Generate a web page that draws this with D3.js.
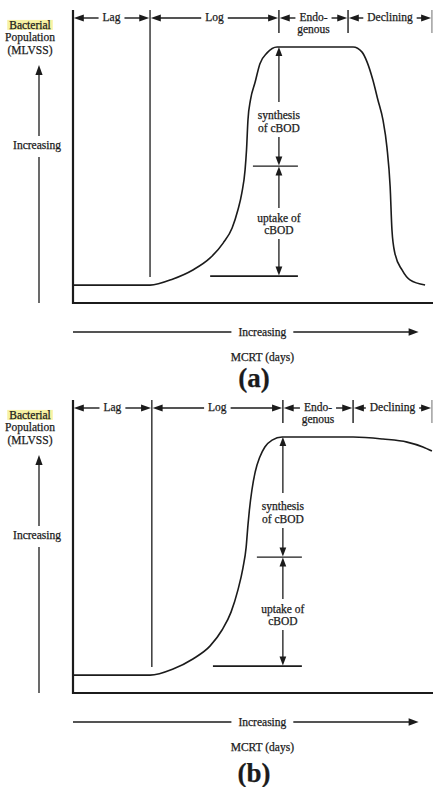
<!DOCTYPE html>
<html>
<head>
<meta charset="utf-8">
<script src="https://cdn.jsdelivr.net/npm/d3@7"></script>
<style>
  html, body { margin: 0; padding: 0; background: #fff; }
  svg { display: block; }
  text { font-family: "Liberation Serif", "Times New Roman", serif; fill: #1b1b1b; stroke: #1b1b1b; stroke-width: 0.25px; }
</style>
</head>
<body>
<svg id="chart" width="433" height="787"></svg>
<script>
// Growth phases along the MCRT axis
const phaseLabels = [["Lag"], ["Log"], ["Endo-", "genous"], ["Declining"]];
// Phase boundaries in relative MCRT units (0-100)
const phaseBoundsA = [0, 21.4, 57.2, 76.4, 99.7];
const phaseBoundsB = [0, 21.9, 58.3, 77.8, 99.7];

// Bacterial population curve, relative MCRT vs relative MLVSS
const mcrtA = [0, 21.4, 27.8, 33.3, 38.1, 41.7, 44.2, 45.8, 46.9, 47.8, 48.2, 48.6, 49.3, 50.6, 51.9, 53.9, 56.7,
               77.8, 80.3, 81.7, 83.3, 84.7, 86.1, 87.2, 88.1, 88.6, 89.4, 91.4, 93.6, 97.8];
const populationA = [7.0, 7.0, 9.4, 12.9, 17.6, 23.4, 29.3, 36.3, 43.0, 52.0, 59.8, 71.5, 79.3, 86.3, 93.4, 97.7, 100,
                     100, 98.0, 94.1, 87.1, 79.3, 71.5, 60.9, 45.3, 28.5, 19.5, 12.9, 9.0, 7.0];
const mcrtB = [0, 21.4, 27.8, 33.3, 38.1, 41.4, 43.9, 45.8, 47.2, 48.1, 48.6, 49.0, 49.7, 50.6, 51.9, 53.3, 55.3, 58.1,
               77.8, 86.1, 92.8, 97.2, 99.7];
const populationB = [7.0, 7.0, 9.4, 13.3, 18.4, 24.6, 31.6, 40.2, 48.8, 57.0, 65.6, 71.5, 79.3, 86.3, 92.2, 96.1, 98.8, 100,
                     100, 99.2, 98.0, 96.1, 94.5];

// cBOD levels on the endogenous boundary: plateau, synthesis/uptake split, starting level
const cbodLevelsA = [100, 53.5, 10.5];
const cbodLevelsB = [100, 53.1, 10.5];
const cbodLabels = [["synthesis", "of cBOD"], ["uptake of", "cBOD"]];

// Axis titles
const yTitle = ["Bacterial", "Population", "(MLVSS)"];
const trendLabel = "Increasing";
const xTitle = "MCRT (days)";
const panelTags = ["(a)", "(b)"];

const ink = "#1b1b1b";
const fs = 11.5;
const svg = d3.select("#chart");

const x = d3.scaleLinear().domain([0, 100]).range([73, 433]);
const y = d3.scaleLinear().domain([0, 100]).range([303, 47]);

function head(g, px, py, dir, len = 10, hw = 3.6) {
  const pts = {
    left:  [[px, py], [px + len, py - hw], [px + len, py + hw]],
    right: [[px, py], [px - len, py - hw], [px - len, py + hw]],
    up:    [[px, py], [px - hw, py + len], [px + hw, py + len]],
    down:  [[px, py], [px - hw, py - len], [px + hw, py - len]]
  }[dir];
  g.append("path").attr("d", "M" + pts.map(p => p.join(",")).join("L") + "Z").attr("fill", ink);
}

function seg(g, x1, y1, x2, y2, w = 1.3, c = ink) {
  g.append("line").attr("x1", x1).attr("y1", y1).attr("x2", x2).attr("y2", y2)
    .attr("stroke", c).attr("stroke-width", w);
}

function txt(g, s, cx, cy, size = fs, weight = "normal") {
  return g.append("text").attr("x", cx).attr("y", cy + size * 0.34)
    .attr("text-anchor", "middle").attr("font-size", size).attr("font-weight", weight).text(s);
}

function drawPanel(offset, bounds, mcrt, pop, levels, tag, tagY) {
  const g = svg.append("g").attr("transform", `translate(0,${offset})`);
  const top = 10, rowY = 18, base = y(0);

  // frame: population axis and MCRT axis
  seg(g, x(0), top, x(0), base + 1, 2.2);
  seg(g, x(0) - 1, base, x(100), base, 2.2);

  // phase dividers
  seg(g, x(bounds[1]), top, x(bounds[1]), y(pop[0]) - 8, 1.3);
  seg(g, x(bounds[2]), top, x(bounds[2]), 33, 1.4);
  seg(g, x(bounds[3]), top, x(bounds[3]), 33, 1.4);
  seg(g, x(bounds[4]), top, x(bounds[4]), 33, 1.2, "#888");

  // phase labels with span arrows
  phaseLabels.forEach((lines, i) => {
    const l = x(bounds[i]), r = x(bounds[i + 1]), cx = (l + r) / 2;
    const t = txt(g, lines[0], cx, rowY - 1);
    lines.slice(1).forEach((s, j) => txt(g, s, cx, rowY - 1 + 12 * (j + 1)));
    const w = t.node().getComputedTextLength();
    head(g, l + 0.8, rowY, "left");
    seg(g, l + 8, rowY, cx - w / 2 - 4, rowY, 1.4);
    head(g, r - 0.8, rowY, "right");
    seg(g, cx + w / 2 + 4, rowY, r - 8, rowY, 1.4);
  });

  // population curve
  const pts = mcrt.map((m, i) => [m, pop[i]]);
  g.append("path")
    .attr("d", d3.line().x(d => x(d[0])).y(d => y(d[1])).curve(d3.curveMonotoneX)(pts))
    .attr("fill", "none").attr("stroke", ink).attr("stroke-width", 1.6);

  // cBOD synthesis / uptake arrows on the endogenous boundary
  const ax = x(bounds[2]);
  const yTop = y(levels[0]), ySplit = y(levels[1]), yFloor = y(levels[2]);
  seg(g, ax - 26, ySplit, ax + 19, ySplit, 1.3);
  seg(g, x(38.1 + (bounds[2] - 57.2) * 0.7), yFloor, ax + 19, yFloor, 1.6);

  const synC = ySplit - 44, upC = ySplit + 58;
  txt(g, cbodLabels[0][0], ax, synC - 7);
  txt(g, cbodLabels[0][1], ax, synC + 6);
  txt(g, cbodLabels[1][0], ax, upC - 6);
  txt(g, cbodLabels[1][1], ax, upC + 6);

  head(g, ax, yTop, "up", 9, 3.4);
  seg(g, ax, yTop + 8, ax, synC - 20, 1.3);
  seg(g, ax, synC + 15, ax, ySplit - 8, 1.3);
  head(g, ax, ySplit - 0.5, "down", 9, 3.4);
  head(g, ax, ySplit + 0.5, "up", 9, 3.4);
  seg(g, ax, ySplit + 8, ax, upC - 16, 1.3);
  seg(g, ax, upC + 15, ax, yFloor - 8, 1.3);
  head(g, ax, yFloor - 0.5, "down", 9, 3.4);

  // population title
  const tx = 30;
  const first = txt(g, yTitle[0], tx, 25);
  const bb = first.node().getBBox();
  g.insert("rect", "text").attr("x", bb.x - 2).attr("y", bb.y + 1).attr("width", bb.width + 4)
    .attr("height", bb.height - 2).attr("fill", "#f7f1a2");
  txt(g, yTitle[1], tx, 37.5);
  txt(g, yTitle[2], tx, 50);

  // population trend arrow
  const trendX = 39, trendMid = 145;
  txt(g, trendLabel, 37, trendMid);
  head(g, trendX, 65, "up", 10, 3.6);
  seg(g, trendX, 73, trendX, trendMid - 9, 1.3);
  seg(g, trendX, trendMid + 12, trendX, base, 1.3);

  // MCRT trend arrow
  const rowX = 332, cxm = x(52.6);
  const tt = txt(g, trendLabel, cxm, rowX);
  const tw = tt.node().getComputedTextLength();
  seg(g, x(0), rowX, cxm - tw / 2 - 7, rowX, 1.4);
  seg(g, cxm + tw / 2 + 7, rowX, x(96) - 8, rowX, 1.4);
  head(g, x(96), rowX, "right", 10, 3.8);

  txt(g, xTitle, cxm, 357);
  g.append("text").attr("x", 254).attr("y", tagY).attr("text-anchor", "middle")
    .attr("font-size", 27).attr("font-weight", "bold").attr("stroke-width", 0).text(tag);
}

drawPanel(0, phaseBoundsA, mcrtA, populationA, cbodLevelsA, panelTags[0], 387);
drawPanel(390, phaseBoundsB, mcrtB, populationB, cbodLevelsB, panelTags[1], 392);
</script>
</body>
</html>
